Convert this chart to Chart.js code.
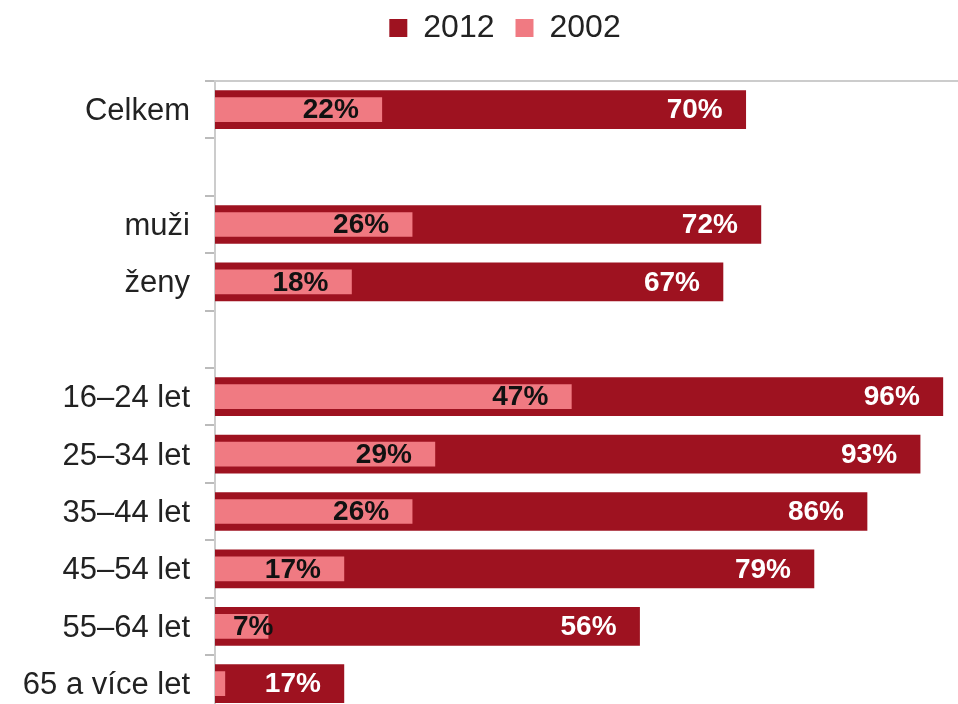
<!DOCTYPE html>
<html>
<head>
<meta charset="utf-8">
<script src="https://cdn.jsdelivr.net/npm/chart.js@4.4.1/dist/chart.umd.min.js"></script>
<style>
  html, body { margin: 0; padding: 0; background: #fff; overflow: hidden; }
  canvas { display: block; }
</style>
</head>
<body>
<canvas id="c" width="958" height="746" style="width:958px;height:746px;"></canvas>
<script>
const categories = ['Celkem', '', 'muži', 'ženy', '', '16–24 let', '25–34 let', '35–44 let', '45–54 let', '55–64 let', '65 a více let'];
const values2012 = [70, null, 72, 67, null, 96, 93, 86, 79, 56, 17];
const values2002 = [22, null, 26, 18, null, 47, 29, 26, 17, 7, 1.3];
const seriesNames = ['2012', '2002'];
const xMax = 98;

const COLOR_2012 = '#9E1220';
const COLOR_2002 = '#F07A82';
const FONT = '"Liberation Sans", Arial, sans-serif';

const valueLabels = {
  id: 'valueLabels',
  afterDatasetsDraw(chart) {
    const ctx = chart.ctx;
    const xScale = chart.scales.x;
    const base = xScale.getPixelForValue(0);
    ctx.save();
    ctx.font = 'bold 28px ' + FONT;
    ctx.textAlign = 'right';
    ctx.textBaseline = 'middle';
    chart.data.datasets.forEach((ds, di) => {
      const meta = chart.getDatasetMeta(di);
      ctx.fillStyle = di === 0 ? '#FFFFFF' : '#111111';
      meta.data.forEach((el, i) => {
        const v = ds.data[i];
        if (v == null || v < 2) return;
        const txt = Math.round(v) + '%';
        const w = ctx.measureText(txt).width;
        const x = Math.max(el.x - 23, base + 18 + w);
        ctx.fillText(txt, x, el.y + 1);
      });
    });
    ctx.restore();
  }
};

// nudge the legend box (position only) to match the reference
const legendShift = {
  id: 'legendShift',
  afterLayout(chart) {
    const lg = chart.legend;
    if (!lg) return;
    lg.left += 26; lg.right += 26;
    lg.top -= 9; lg.bottom -= 9;
  }
};

new Chart(document.getElementById('c'), {
  type: 'bar',
  data: {
    labels: categories,
    datasets: [
      { label: seriesNames[0], data: values2012, backgroundColor: COLOR_2012, barThickness: 38, grouped: false, order: 1 },
      { label: seriesNames[1], data: values2002, backgroundColor: COLOR_2002, barThickness: 24, grouped: false, order: 0 }
    ]
  },
  options: {
    indexAxis: 'y',
    responsive: false,
    animation: false,
    devicePixelRatio: 1,
    layout: { padding: { left: 0, right: 0, top: 0, bottom: 0 } },
    plugins: {
      legend: {
        position: 'top',
        align: 'center',
        labels: {
          boxWidth: 18,
          boxHeight: 18,
          padding: 21,
          color: '#222',
          font: { family: FONT, size: 32 },
          sort: (a, b) => a.datasetIndex - b.datasetIndex
        }
      },
      tooltip: { enabled: false }
    },
    scales: {
      x: {
        position: 'top',
        min: 0,
        max: xMax,
        ticks: { display: false },
        grid: { display: false },
        border: { display: true, color: '#CCCCCC', width: 2 },
        afterFit(scale) { scale.height = 18; }
      },
      y: {
        offset: true,
        ticks: { color: '#222', padding: 15, labelOffset: 2, font: { family: FONT, size: 31 } },
        grid: { display: true, offset: true, drawOnChartArea: false, tickLength: 10, color: '#BBBBBB', lineWidth: 2 },
        border: { display: true, color: '#CCCCCC', width: 2 },
        afterFit(scale) { scale.width = 215; }
      }
    }
  },
  plugins: [valueLabels, legendShift]
});
</script>
</body>
</html>
